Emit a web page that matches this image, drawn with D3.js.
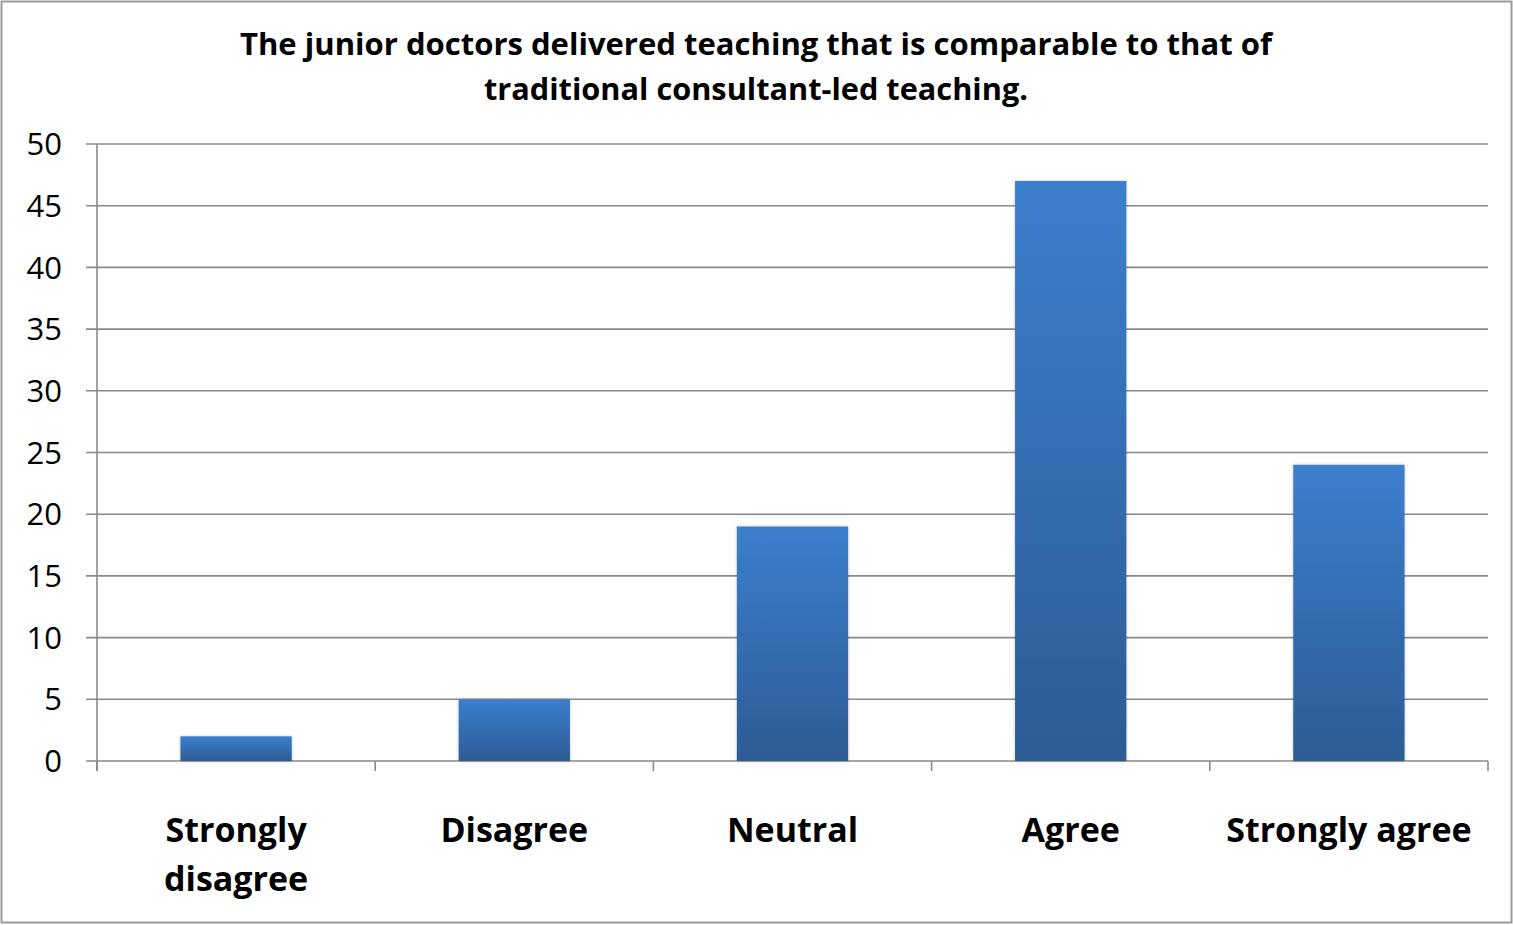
<!DOCTYPE html>
<html>
<head>
<meta charset="utf-8">
<title>Junior doctors teaching</title>
<script src="https://d3js.org/d3.v7.min.js"></script>
<style>
    body { margin: 0; background: #fff; }
    svg { display: block; }
    .grid line { stroke: #8a8a8a; stroke-width: 1.6px; }
    .tick-label { font-family: "Open Sans", "Noto Sans", sans-serif; font-size: 31px; fill: #000; }
    .cat-label { font-family: "Open Sans", "Noto Sans", sans-serif; font-size: 34px; font-weight: bold; fill: #000; }
    .title { font-family: "Open Sans", "Noto Sans", sans-serif; font-size: 30px; font-weight: bold; fill: #000; }
</style>
</head>
<body>
<svg width="1513" height="925"></svg>
<script>
    // data
    let categories = ['Strongly disagree', 'Disagree', 'Neutral', 'Agree', 'Strongly agree'];
    let catLines = [['Strongly', 'disagree'], ['Disagree'], ['Neutral'], ['Agree'], ['Strongly agree']];
    let values = [2, 5, 19, 47, 24];
    let yTicks = [0, 5, 10, 15, 20, 25, 30, 35, 40, 45, 50];
    let titleLines = ['The junior doctors delivered teaching that is comparable to that of',
                      'traditional consultant-led teaching.'];
    let titleWidths = [1032, 544];

    let svg = d3.select('svg');
    let margin = {top: 144, bottom: 164, right: 25, left: 97};
    let width = 1513 - margin.left - margin.right;
    let height = 925 - margin.top - margin.bottom;

    // outer frame
    svg.append('rect')
        .attr('x', 1.5).attr('y', 1.5)
        .attr('width', 1510).attr('height', 921)
        .attr('fill', '#fff')
        .attr('stroke', '#9a9a9a')
        .attr('stroke-width', 2);

    let defs = svg.append('defs');
    let grad = defs.append('linearGradient')
        .attr('id', 'barGrad')
        .attr('x1', 0).attr('y1', 0).attr('x2', 0).attr('y2', 1);
    grad.append('stop').attr('offset', '0%').attr('stop-color', '#3b7fcd');
    grad.append('stop').attr('offset', '100%').attr('stop-color', '#2d5b95');

    let shadow = defs.append('filter').attr('id', 'shadow')
        .attr('x', '-10%').attr('y', '-10%').attr('width', '120%').attr('height', '120%');
    shadow.append('feDropShadow')
        .attr('dx', 0).attr('dy', 0).attr('stdDeviation', 1.5)
        .attr('flood-color', '#000').attr('flood-opacity', 0.25);

    let g = svg.append('g')
        .attr('transform', `translate(${margin.left}, ${margin.top})`);

    let x = d3.scaleBand()
        .domain(categories)
        .range([0, width])
        .paddingInner(0.6)
        .paddingOuter(0.3);

    let y = d3.scaleLinear()
        .domain([0, 50])
        .range([height, 0]);

    // gridlines + y ticks
    g.append('g')
        .attr('class', 'grid')
        .selectAll('line')
        .data(yTicks)
        .join('line')
        .attr('x1', -11)
        .attr('x2', width)
        .attr('y1', d => y(d))
        .attr('y2', d => y(d));

    g.selectAll('.tick-label')
        .data(yTicks)
        .join('text')
        .attr('class', 'tick-label')
        .attr('x', -35)
        .attr('y', d => y(d))
        .attr('dy', '0.36em')
        .attr('text-anchor', 'end')
        .text(d => d);

    // y axis line
    g.append('line')
        .attr('x1', 0).attr('x2', 0)
        .attr('y1', 0).attr('y2', height + 10)
        .attr('stroke', '#8a8a8a').attr('stroke-width', 1.6);

    // category ticks between bands
    let step = x.step();
    g.selectAll('.cat-tick')
        .data(d3.range(categories.length + 1))
        .join('line')
        .attr('class', 'cat-tick')
        .attr('x1', i => i * step)
        .attr('x2', i => i * step)
        .attr('y1', height)
        .attr('y2', height + 10)
        .attr('stroke', '#8a8a8a').attr('stroke-width', 1.6);

    // bars
    g.selectAll('.bar')
        .data(values)
        .join('rect')
        .attr('class', 'bar')
        .attr('x', (d, i) => x(categories[i]))
        .attr('y', d => y(d))
        .attr('width', x.bandwidth())
        .attr('height', d => height - y(d))
        .attr('fill', 'url(#barGrad)')
        .attr('filter', 'url(#shadow)');

    // category labels
    let labels = g.selectAll('.cat-label')
        .data(categories)
        .join('text')
        .attr('class', 'cat-label')
        .attr('text-anchor', 'middle')
        .attr('transform', d => `translate(${x(d) + x.bandwidth() / 2}, ${height + 81})`);
    labels.selectAll('tspan')
        .data((d, i) => catLines[i])
        .join('tspan')
        .attr('x', 0)
        .attr('y', (d, i) => i * 49)
        .text(d => d);

    // title
    svg.selectAll('.title')
        .data(titleLines)
        .join('text')
        .attr('class', 'title')
        .attr('x', 756)
        .attr('y', (d, i) => 55 + i * 45)
        .attr('text-anchor', 'middle')
        .attr('textLength', (d, i) => titleWidths[i])
        .attr('lengthAdjust', 'spacingAndGlyphs')
        .text(d => d);
</script>
</body>
</html>
